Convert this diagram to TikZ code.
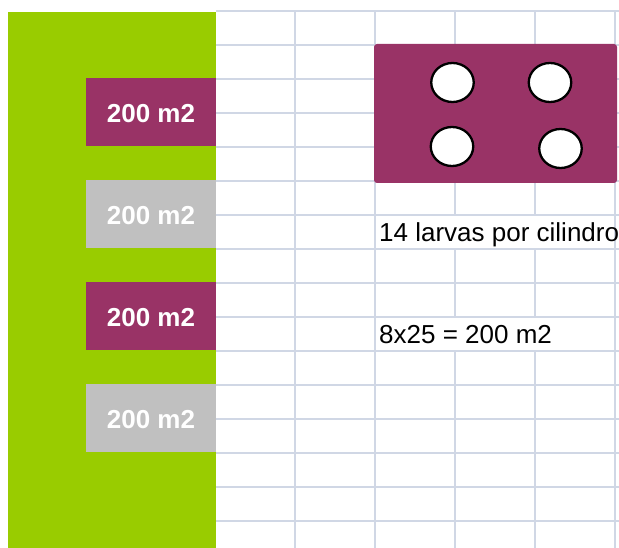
\documentclass[tikz,border=0pt]{standalone}
\usepackage{fontspec}
\setmainfont{Liberation Sans}
\usetikzlibrary{shapes.geometric}
\definecolor{grn}{HTML}{99CC00}
\definecolor{pur}{HTML}{993366}
\definecolor{gry}{HTML}{C0C0C0}
\definecolor{gridc}{HTML}{D0D7E5}
\begin{document}
\begin{tikzpicture}[x=1pt,y=-1pt,
  gridline/.style={draw=gridc, line width=1.3pt},
  areabox/.style={rectangle, inner sep=0pt, minimum width=130pt, minimum height=68pt,
    text=white, font=\fontsize{26}{30}\selectfont\bfseries, text height=21pt, text depth=0pt},
  cyl/.style={ellipse, draw=black, line width=2.3pt, fill=white, inner sep=0pt,
    minimum width=42.5pt, minimum height=39pt},
  note/.style={anchor=base west, inner sep=0pt, font=\fontsize{26}{30}\selectfont, text=black}]
\useasboundingbox (0,0) rectangle (619,548);
% grid
\foreach \y in {11,45,...,521} \draw[gridline] (216,\y) -- (619,\y);
\foreach \x in {295,375,455,535,615} \draw[gridline] (\x,11) -- (\x,548);
% cells where text overflows hide the grid
\fill[white] (376,216) rectangle (614,248.3);
\fill[white] (376,318) rectangle (614,350.3);
% green column
\fill[grn] (8,12) rectangle (216,548);
% area boxes
\node[areabox, fill=pur] (a1) at (151,112) {200 m2};
\node[areabox, fill=gry] (a2) at (151,214) {200 m2};
\node[areabox, fill=pur] (a3) at (151,316) {200 m2};
\node[areabox, fill=gry] (a4) at (151,418) {200 m2};
% purple tank with cylinders
\node[rectangle, fill=pur, rounded corners=3pt, inner sep=0pt, minimum width=243pt, minimum height=139pt] (tank) at (495.5,113.5) {};
\node[cyl] (c1) at (452.5,82.5) {};
\node[cyl] (c2) at (550,82.5) {};
\node[cyl] (c3) at (452,146.5) {};
\node[cyl] (c4) at (560.5,148.5) {};
% notes
\node[note] (n1) at (379,242) {14 larvas por cilindro};
\node[note] (n2) at (379,344) {8x25 = 200 m2};
\end{tikzpicture}
\end{document}
